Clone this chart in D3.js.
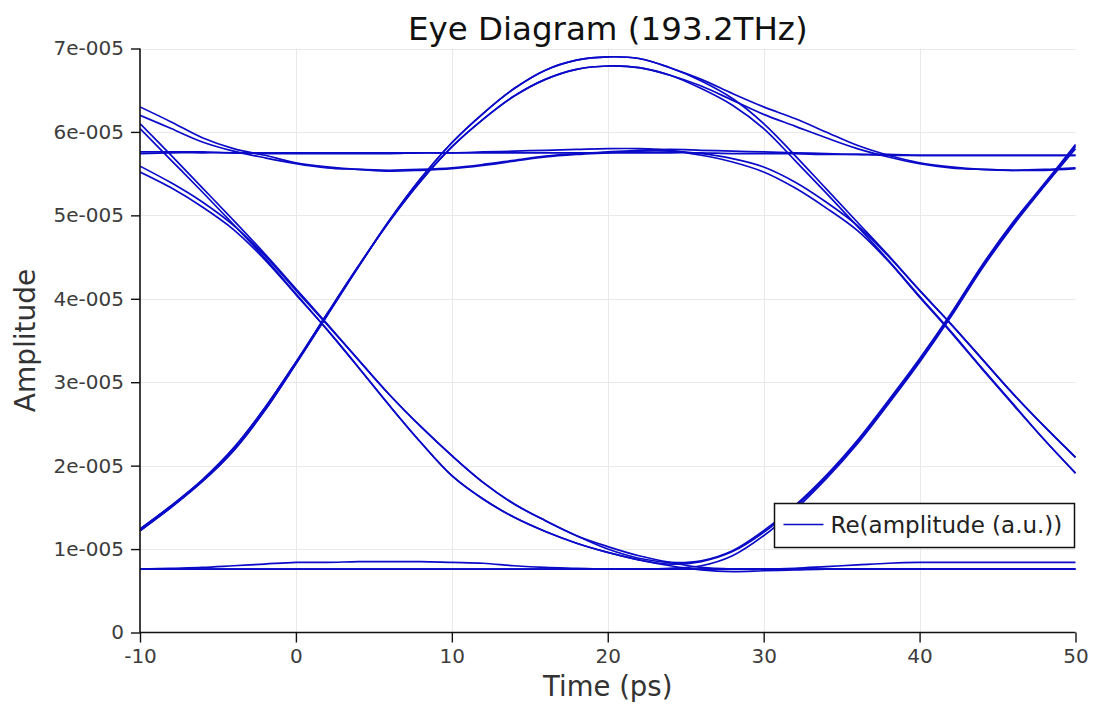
<!DOCTYPE html>
<html>
<head>
<meta charset="utf-8">
<script src="https://cdn.jsdelivr.net/npm/d3@7"></script>
<style>
  html, body { margin: 0; padding: 0; background: #fff; }
  svg { display: block; }
</style>
</head>
<body>
<svg id="chart" width="1093" height="704"></svg>
<script>
// Sample instants of the eye window (ps)
const timePs = [-10, -8, -6, -4, -2, 0, 2, 4, 6, 8, 10, 12, 14, 16, 18, 20, 22, 24, 26, 28, 30, 32, 34, 36, 38, 40, 42, 44, 46, 48, 50];

// Amplitude of each overlaid bit trace, in units of 1e-005
const riseHoldUpper   = [1.22, 1.50, 1.81, 2.18, 2.66, 3.22, 3.80, 4.38, 4.94, 5.44, 5.87, 6.22, 6.52, 6.74, 6.86, 6.90, 6.88, 6.77, 6.63, 6.46, 6.30, 6.16, 6.00, 5.84, 5.72, 5.63, 5.58, 5.55, 5.54, 5.55, 5.57];
const riseHoldLower   = [1.24, 1.52, 1.83, 2.21, 2.69, 3.24, 3.82, 4.39, 4.93, 5.41, 5.82, 6.15, 6.43, 6.63, 6.75, 6.79, 6.77, 6.68, 6.55, 6.38, 6.21, 6.07, 5.93, 5.80, 5.70, 5.62, 5.57, 5.55, 5.54, 5.54, 5.56];
const riseFallUpper   = [1.22, 1.50, 1.81, 2.18, 2.66, 3.22, 3.80, 4.38, 4.94, 5.44, 5.87, 6.22, 6.52, 6.74, 6.86, 6.90, 6.88, 6.77, 6.61, 6.40, 6.10, 5.72, 5.32, 4.92, 4.52, 4.10, 3.70, 3.28, 2.86, 2.47, 2.10];
const riseFallLower   = [1.24, 1.52, 1.83, 2.21, 2.69, 3.24, 3.82, 4.39, 4.93, 5.41, 5.82, 6.15, 6.43, 6.63, 6.75, 6.79, 6.77, 6.68, 6.52, 6.32, 6.04, 5.66, 5.27, 4.87, 4.46, 4.03, 3.61, 3.17, 2.74, 2.31, 1.91];
const settleHold      = [6.30, 6.12, 5.93, 5.80, 5.72, 5.63, 5.58, 5.55, 5.54, 5.55, 5.57, 5.61, 5.66, 5.71, 5.74, 5.76, 5.78, 5.79, 5.78, 5.77, 5.76, 5.75, 5.74, 5.73, 5.72, 5.72, 5.72, 5.72, 5.72, 5.72, 5.72];
const settleFall      = [6.20, 6.04, 5.88, 5.77, 5.69, 5.62, 5.57, 5.55, 5.53, 5.54, 5.56, 5.60, 5.65, 5.70, 5.73, 5.75, 5.77, 5.77, 5.74, 5.68, 5.58, 5.40, 5.16, 4.88, 4.51, 4.10, 3.70, 3.28, 2.86, 2.47, 2.10];
const flatHold        = [5.76, 5.76, 5.76, 5.75, 5.75, 5.75, 5.75, 5.75, 5.75, 5.75, 5.75, 5.75, 5.75, 5.75, 5.75, 5.75, 5.75, 5.75, 5.75, 5.74, 5.74, 5.74, 5.73, 5.73, 5.73, 5.72, 5.72, 5.72, 5.72, 5.72, 5.72];
const flatFall        = [5.74, 5.75, 5.75, 5.75, 5.74, 5.74, 5.74, 5.74, 5.74, 5.75, 5.75, 5.76, 5.77, 5.78, 5.79, 5.80, 5.80, 5.78, 5.72, 5.64, 5.52, 5.33, 5.09, 4.82, 4.45, 4.02, 3.60, 3.16, 2.73, 2.31, 1.91];
const steepDropRise   = [6.10, 5.72, 5.33, 4.94, 4.54, 4.12, 3.70, 3.27, 2.85, 2.47, 2.12, 1.80, 1.54, 1.34, 1.16, 1.00, 0.89, 0.84, 0.86, 0.98, 1.22, 1.52, 1.88, 2.30, 2.78, 3.28, 3.82, 4.40, 4.92, 5.38, 5.85];
const steepDropLow    = [6.04, 5.66, 5.28, 4.89, 4.49, 4.06, 3.63, 3.18, 2.72, 2.28, 1.88, 1.60, 1.38, 1.21, 1.07, 0.96, 0.87, 0.80, 0.75, 0.73, 0.74, 0.75, 0.76, 0.76, 0.76, 0.76, 0.76, 0.76, 0.76, 0.76, 0.76];
const slopeDropLow    = [5.59, 5.39, 5.16, 4.88, 4.52, 4.10, 3.69, 3.27, 2.85, 2.47, 2.12, 1.80, 1.54, 1.34, 1.16, 1.03, 0.92, 0.84, 0.78, 0.76, 0.76, 0.76, 0.76, 0.76, 0.76, 0.76, 0.76, 0.76, 0.76, 0.76, 0.76];
const slopeDropRise   = [5.52, 5.33, 5.10, 4.83, 4.47, 4.05, 3.63, 3.18, 2.72, 2.28, 1.88, 1.60, 1.38, 1.21, 1.07, 0.96, 0.87, 0.82, 0.85, 0.97, 1.20, 1.50, 1.86, 2.28, 2.76, 3.26, 3.80, 4.38, 4.90, 5.36, 5.83];
const lowFlat         = [0.76, 0.76, 0.76, 0.76, 0.76, 0.76, 0.76, 0.76, 0.76, 0.76, 0.76, 0.76, 0.76, 0.76, 0.76, 0.76, 0.76, 0.76, 0.76, 0.76, 0.76, 0.76, 0.76, 0.76, 0.76, 0.76, 0.76, 0.76, 0.76, 0.76, 0.76];
const lowHump         = [0.76, 0.77, 0.78, 0.80, 0.82, 0.84, 0.84, 0.85, 0.85, 0.85, 0.84, 0.83, 0.80, 0.78, 0.77, 0.76, 0.76, 0.76, 0.76, 0.76, 0.76, 0.77, 0.79, 0.81, 0.83, 0.84, 0.84, 0.84, 0.84, 0.84, 0.84];
const lowRise         = [0.76, 0.76, 0.76, 0.76, 0.76, 0.76, 0.76, 0.76, 0.76, 0.76, 0.76, 0.76, 0.76, 0.76, 0.76, 0.76, 0.76, 0.77, 0.80, 0.92, 1.16, 1.47, 1.84, 2.26, 2.74, 3.24, 3.78, 4.36, 4.88, 5.35, 5.80];

const ampUnit = 1e-5;

// Axis ticks
const timeTicks = [-10, 0, 10, 20, 30, 40, 50];
const timeTickLabels = ["-10", "0", "10", "20", "30", "40", "50"];
const ampTicks = [0, 1e-5, 2e-5, 3e-5, 4e-5, 5e-5, 6e-5, 7e-5];
const ampTickLabels = ["0", "1e-005", "2e-005", "3e-005", "4e-005", "5e-005", "6e-005", "7e-005"];

const chartTitle = "Eye Diagram (193.2THz)";
const xTitle = "Time (ps)";
const yTitle = "Amplitude";
const seriesName = "Re(amplitude (a.u.))";

const traces = [
  riseHoldUpper, riseHoldLower, riseFallUpper, riseFallLower,
  settleHold, settleFall, flatHold, flatFall,
  steepDropRise, steepDropLow, slopeDropLow, slopeDropRise,
  lowFlat, lowHump, lowRise
];

// Layout
const plot = { left: 140, right: 1075.5, top: 48.5, bottom: 632.5 };
const traceColor = "#0a0ac8";
const textFont = "'DejaVu Sans', sans-serif";

const svg = d3.select("#chart");

const x = d3.scaleLinear().domain([-10, 50]).range([plot.left, plot.right]);
const y = d3.scaleLinear().domain([0, 7e-5]).range([plot.bottom, plot.top]);

// Grid
const grid = svg.append("g").attr("stroke", "#e9e9e9").attr("stroke-width", 1);
grid.selectAll("line.v").data(timeTicks.slice(1, -1)).join("line")
  .attr("class", "v")
  .attr("x1", d => Math.round(x(d)) + 0.5).attr("x2", d => Math.round(x(d)) + 0.5)
  .attr("y1", plot.top).attr("y2", plot.bottom);
grid.selectAll("line.h").data(ampTicks.slice(1)).join("line")
  .attr("class", "h")
  .attr("x1", plot.left).attr("x2", plot.right)
  .attr("y1", d => Math.round(y(d)) + 0.5).attr("y2", d => Math.round(y(d)) + 0.5);

// Traces
svg.append("defs").append("clipPath").attr("id", "plotClip")
  .append("rect")
  .attr("x", plot.left).attr("y", plot.top - 2)
  .attr("width", plot.right - plot.left + 1).attr("height", plot.bottom - plot.top + 2);

const line = d3.line()
  .x((d, i) => x(timePs[i]))
  .y(d => y(d * ampUnit))
  .curve(d3.curveCatmullRom.alpha(0.5));

svg.append("g").attr("clip-path", "url(#plotClip)")
  .selectAll("path").data(traces).join("path")
  .attr("d", line)
  .attr("fill", "none")
  .attr("stroke", traceColor)
  .attr("stroke-width", 1.7)
  .attr("stroke-linejoin", "round");

// Axes
const xAxis = d3.axisBottom(x).tickValues(timeTicks).tickSize(10).tickPadding(6)
  .tickFormat((d, i) => timeTickLabels[i]);
const yAxis = d3.axisLeft(y).tickValues(ampTicks).tickSize(9).tickPadding(7)
  .tickFormat((d, i) => ampTickLabels[i]);

const gx = svg.append("g").attr("transform", `translate(0,${plot.bottom})`).call(xAxis);
const gy = svg.append("g").attr("transform", `translate(${plot.left},0)`).call(yAxis);

[gx, gy].forEach(g => {
  g.select(".domain").attr("stroke", "#111").attr("stroke-width", 1.6);
  g.selectAll(".tick line").attr("stroke", "#111").attr("stroke-width", 1.4);
  g.selectAll(".tick text")
    .attr("font-family", textFont)
    .attr("font-size", 20)
    .attr("fill", "#3c3c3c");
});
gy.select(".domain").attr("d", `M0,${plot.bottom}V${plot.top}`);
gx.select(".domain").attr("d", `M${plot.left},0H${plot.right}`);

// Titles
svg.append("text")
  .attr("x", (plot.left + plot.right) / 2).attr("y", 40)
  .attr("text-anchor", "middle")
  .attr("font-family", textFont).attr("font-size", 32.5)
  .attr("fill", "#111")
  .text(chartTitle);

svg.append("text")
  .attr("x", (plot.left + plot.right) / 2).attr("y", 696)
  .attr("text-anchor", "middle")
  .attr("font-family", textFont).attr("font-size", 27.5)
  .attr("fill", "#333")
  .text(xTitle);

svg.append("text")
  .attr("transform", `translate(35,${(plot.top + plot.bottom) / 2}) rotate(-90)`)
  .attr("text-anchor", "middle")
  .attr("font-family", textFont).attr("font-size", 28)
  .attr("fill", "#333")
  .text(yTitle);

// Legend
const legend = svg.append("g").attr("transform", "translate(774.5,503.5)");
legend.append("rect")
  .attr("width", 300).attr("height", 44)
  .attr("fill", "#fff").attr("stroke", "#111").attr("stroke-width", 1.5);
legend.append("line")
  .attr("x1", 9).attr("x2", 49).attr("y1", 21).attr("y2", 21)
  .attr("stroke", traceColor).attr("stroke-width", 1.6);
legend.append("text")
  .attr("x", 56).attr("y", 29)
  .attr("font-family", textFont).attr("font-size", 23)
  .attr("fill", "#222")
  .text(seriesName);
</script>
</body>
</html>
